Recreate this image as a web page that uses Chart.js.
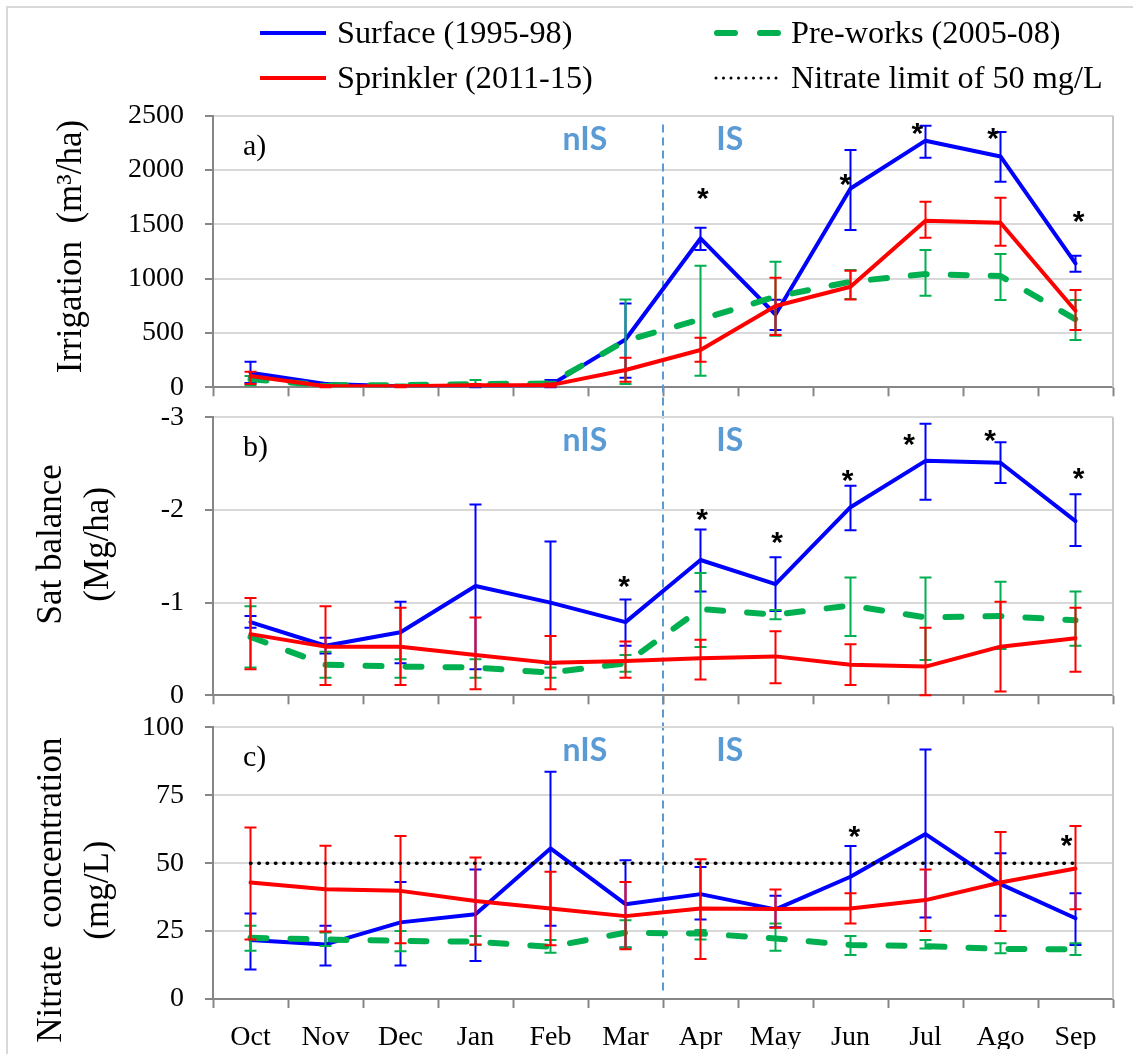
<!DOCTYPE html>
<html><head><meta charset="utf-8">
<script src="https://cdn.jsdelivr.net/npm/chart.js@4.4.1/dist/chart.umd.min.js"></script>
<style>
html,body{margin:0;padding:0;background:#fff;}
#wrap{position:relative;width:1133px;height:1054px;overflow:hidden;background:#fff;}
#wrap canvas{position:absolute;left:0;top:0;}
#frame{position:absolute;left:6px;top:6px;right:-10px;bottom:-10px;border-left:2px solid #d9d9d9;border-top:2px solid #d9d9d9;}
.lg{position:absolute;font-family:'Liberation Serif','Times New Roman',serif;font-size:31px;line-height:36px;color:#000;white-space:pre;transform-origin:left center;transform:scaleX(1.04);}
.sw{position:absolute;}
</style></head><body>
<div id="wrap">
<div id="frame"></div>
<canvas id="ca" width="1133" height="1054"></canvas>
<canvas id="cb" width="1133" height="1054"></canvas>
<canvas id="cc" width="1133" height="1054"></canvas>
<div id="legend"></div>
</div>
<script>
// ---------------- DATA ----------------
const months = ['Oct','Nov','Dec','Jan','Feb','Mar','Apr','May','Jun','Jul','Ago','Sep'];
const seriesNames = ['Surface (1995-98)','Sprinkler (2011-15)','Pre-works (2005-08)','Nitrate limit of 50 mg/L'];

// a) Irrigation (m3/ha)
const irrTicks = [0,500,1000,1500,2000,2500];
const irrSurface   = [135, 30, 10, 5, 20, 440, 1370, 670, 1830, 2270, 2125, 1140];
const irrSurfaceHi = [236, 40, 15, 10, 67, 772, 1468, 805, 2185, 2407, 2349, 1211];
const irrSurfaceLo = [40, 20, 5, 0, 0, 88, 1263, 528, 1447, 2113, 1892, 1064];
const irrSprinkler   = [104, 10, 10, 20, 20, 159, 343, 748, 926, 1533, 1515, 705];
const irrSprinklerHi = [144, 20, 20, 30, 35, 272, 456, 1008, 1073, 1708, 1745, 895];
const irrSprinklerLo = [30, 0, 0, 10, 5, 50, 236, 481, 809, 1377, 1303, 527];
const irrPreworks   = [73, 20, 20, 30, 35, 429, 625, 834, 972, 1042, 1024, 625];
const irrPreworksHi = [104, 30, 25, 67, 50, 809, 1119, 1156, 1079, 1263, 1226, 803];
const irrPreworksLo = [20, 10, 15, 10, 15, 30, 107, 475, 812, 843, 803, 435];
const irrStarPos = [6.03, 7.93, 8.89, 9.9, 11.04];
const irrStarVal = [1777, 1907, 2375, 2329, 1565];

// b) Salt balance (Mg/ha)
const saltTicks = [-3,-2,-1,0];
const saltSurface   = [-0.79, -0.535, -0.68, -1.18, -1.0, -0.79, -1.46, -1.20, -2.03, -2.53, -2.51, -1.88];
const saltSurfaceHi = [-0.855, -0.62, -1.01, -2.06, -1.66, -1.035, -1.79, -1.49, -2.26, -2.93, -2.73, -2.17];
const saltSurfaceLo = [-0.73, -0.45, -0.345, -0.28, -0.34, -0.535, -1.12, -0.91, -1.78, -2.11, -2.29, -1.61];
const saltSprinkler   = [-0.66, -0.525, -0.525, -0.435, -0.35, -0.37, -0.40, -0.42, -0.33, -0.31, -0.525, -0.615];
const saltSprinklerHi = [-1.05, -0.96, -0.945, -0.84, -0.64, -0.58, -0.60, -0.69, -0.55, -0.73, -1.01, -0.945];
const saltSprinklerLo = [-0.28, -0.11, -0.11, -0.065, -0.065, -0.19, -0.17, -0.13, -0.11, 0, -0.04, -0.255];
const saltPreworks   = [-0.63, -0.33, -0.31, -0.30, -0.245, -0.345, -0.93, -0.87, -0.97, -0.84, -0.855, -0.81];
const saltPreworksHi = [-0.96, -0.47, -0.39, -0.39, -0.30, -0.435, -1.32, -0.92, -1.27, -1.27, -1.225, -1.12];
const saltPreworksLo = [-0.30, -0.19, -0.19, -0.19, -0.19, -0.255, -0.52, -0.82, -0.64, -0.38, -0.50, -0.535];
const saltStarPos = [4.98, 6.02, 7.02, 7.96, 8.78, 9.86, 11.04];
const saltStarVal = [-1.225, -1.945, -1.70, -2.37, -2.75, -2.80, -2.39];

// c) Nitrate concentration (mg/L)
const nitTicks = [0,25,50,75,100];
const nitSurface   = [21.7, 20.1, 28.2, 31.2, 55.4, 34.9, 38.6, 33.0, 45.0, 60.7, 42.3, 29.7];
const nitSurfaceHi = [31.5, 27, 43.1, 47.7, 83.6, 51.1, 48.6, 38, 56.3, 91.8, 53.6, 38.9];
const nitSurfaceLo = [10.9, 12.3, 12.3, 14, 27, 19, 29.3, 26.4, 33.5, 30, 30.6, 19.9];
const nitSprinkler   = [42.9, 40.4, 39.8, 36.1, 33.3, 30.5, 33.3, 33.1, 33.3, 36.4, 42.9, 48.0];
const nitSprinklerHi = [63.1, 56.4, 60, 52.1, 46.8, 43.1, 51.4, 40.3, 38.9, 47.7, 61.5, 63.7];
const nitSprinklerLo = [21.9, 24.8, 20.5, 20.1, 19.8, 18.3, 14.7, 26.2, 27.8, 25, 25, 33];
const nitPreworks   = [22.5, 21.9, 21.4, 21.1, 19.2, 24.4, 24.1, 22.3, 19.9, 19.5, 18.4, 18.3];
const nitPreworksHi = [27, 24.5, 25, 23.2, 21.7, 29, 25.4, 27.8, 23.2, 21.7, 20.5, 20.5];
const nitPreworksLo = [17.8, 19.5, 17.6, 19.9, 17, 19, 21.9, 17.8, 16.2, 18.6, 16.8, 16.2];
const nitLimit = [50,50,50,50,50,50,50,50,50,50,50,50];
const nitStarPos = [8.05, 10.88];
const nitStarVal = [61.5, 58.2];

// season annotations
const seasonLabels = ['nIS','IS'];
const seasonPos = [4.46, 6.39];
const dividerPos = 5.5;

// ---------------- STYLE ----------------
const SERIF = "'Liberation Serif','Times New Roman',serif";
const BLUE='#0000FF', RED='#FF0000', GREEN='#00B050', AXIS='#868686', GRID='#d9d9d9', ISBLUE='#5B9BD5';

function series(label, data, hi, lo, color, style, order){
  const ds = {label, data, errHi:hi, errLo:lo, borderColor:color, backgroundColor:color,
    pointRadius:0, tension:0, order, fill:false, borderJoinStyle:'round'};
  if(style==='solid'){ ds.borderWidth=4; ds.borderCapStyle='round'; }
  if(style==='dash'){ ds.borderWidth=6; ds.borderDash=[16,24]; ds.borderCapStyle='round'; }
  if(style==='dot'){ ds.borderWidth=3.5; ds.borderDash=[0.5,7.8]; ds.borderCapStyle='round'; }
  return ds;
}

const errorBars = {
  id:'errorBars',
  afterDatasetDraw(chart, args){
    const ds = chart.data.datasets[args.index];
    if(!ds.errHi) return;
    const {ctx, scales:{x,y}} = chart;
    ctx.save();
    ctx.strokeStyle = ds.borderColor; ctx.lineWidth = 2; ctx.setLineDash([]);
    ds.data.forEach((v,i)=>{
      const px = x.getPixelForValue(i);
      const yh = y.getPixelForValue(ds.errHi[i]);
      const yl = y.getPixelForValue(ds.errLo[i]);
      ctx.beginPath();
      ctx.moveTo(px,yh); ctx.lineTo(px,yl);
      ctx.moveTo(px-6,yh); ctx.lineTo(px+6,yh);
      ctx.moveTo(px-6,yl); ctx.lineTo(px+6,yl);
      ctx.stroke();
    });
    ctx.restore();
  }
};

let chartC = null;
const decor = {
  id:'decor',
  beforeDatasetsDraw(chart, args, o){
    const {ctx, chartArea:a, scales:{x,y}} = chart;
    ctx.save();
    ctx.strokeStyle='#c8c8c8'; ctx.lineWidth=2;
    ctx.beginPath(); ctx.moveTo(a.right, a.top); ctx.lineTo(a.right, a.bottom); ctx.stroke();
    if(o.divider && chartC){
      const px = x.getPixelForValue(dividerPos);
      ctx.strokeStyle = ISBLUE; ctx.lineWidth = 2; ctx.setLineDash([8,5]);
      ctx.beginPath();
      ctx.moveTo(px, y.getPixelForValue(o.dividerTop));
      ctx.lineTo(px, chartC.scales.y.getPixelForValue(o.dividerBottom));
      ctx.stroke();
    }
    ctx.restore();
  },
  afterDraw(chart, args, o){
    const {ctx, chartArea:a, scales:{x,y}} = chart;
    ctx.save();
    ctx.fillStyle='#000'; ctx.font = `30px ${SERIF}`; ctx.textBaseline='middle'; ctx.textAlign='left';
    ctx.fillText(o.letter, a.left+30, a.top+31);
    ctx.fillStyle=ISBLUE; ctx.font="bold 32px Lato, 'Open Sans', sans-serif"; ctx.textAlign='center';
    ctx.textBaseline='alphabetic';
    const mi = ctx.measureText('IS');
    seasonLabels.forEach((t,i)=> ctx.fillText(t, x.getPixelForValue(seasonPos[i]), a.top+22+mi.actualBoundingBoxAscent/2));
    ctx.fillStyle='#000'; ctx.font="bold 30px 'Liberation Sans', Arial, sans-serif";
    const m = ctx.measureText('*');
    const off = (m.actualBoundingBoxAscent - m.actualBoundingBoxDescent)/2;
    o.starPos.forEach((p,i)=> ctx.fillText('*', x.getPixelForValue(p), y.getPixelForValue(o.starVal[i]) + off));
    ctx.font = `35px ${SERIF}`; ctx.textBaseline='middle'; ctx.textAlign='center';
    const cy = (a.top+a.bottom)/2 + o.titleDy;
    o.title.forEach((t,i)=>{ ctx.save(); ctx.translate(o.titleX + i*47, cy); ctx.rotate(-Math.PI/2); ctx.fillText(t,0,0); ctx.restore(); });
    ctx.restore();
  }
};

function panel(id, c){
  return new Chart(document.getElementById(id), {
    type:'line',
    data:{labels:months, datasets:c.datasets},
    options:{
      responsive:false, animation:false, events:[], devicePixelRatio:1,
      layout:{padding:{top:c.top, bottom:c.bottom, left:0, right:20}},
      plugins:{legend:{display:false}, tooltip:{enabled:false}, decor:c.decor},
      scales:{
        x:{type:'category', offset:true,
           grid:{offset:true, drawOnChartArea:false, drawTicks:true, tickLength:9, tickColor:AXIS, tickWidth:2},
           border:{color:AXIS, width:2},
           ticks:{display:c.showX, font:{family:SERIF, size:28}, color:'#000', padding:13, maxRotation:0, autoSkip:false},
           afterFit(s){ s.height = c.xh; s.paddingLeft=0; s.paddingRight=0; }},
        y:{min:c.ticks[0], max:c.ticks[c.ticks.length-1], reverse:!!c.reverse,
           afterBuildTicks(s){ s.ticks = c.ticks.map(v=>({value:v})); },
           ticks:{callback:v=>String(v), font:{family:SERIF, size:28}, color:'#000', padding:21},
           grid:{color:GRID, lineWidth:2, tickColor:AXIS, tickLength:8, tickWidth:2},
           border:{color:AXIS, width:2},
           afterFit(s){ s.width = 213; s.paddingTop=0; s.paddingBottom=0; }}
      }
    },
    plugins:[errorBars, decor]
  });
}

chartC = panel('cc', {
  top:727.3, bottom:5, xh:50, showX:true, ticks:nitTicks,
  datasets:[
    series(seriesNames[3], nitLimit, null, null, '#000', 'dot', 0),
    series(seriesNames[1], nitSprinkler, nitSprinklerHi, nitSprinklerLo, RED, 'solid', 1),
    series(seriesNames[2], nitPreworks, nitPreworksHi, nitPreworksLo, GREEN, 'dash', 2),
    series(seriesNames[0], nitSurface, nitSurfaceHi, nitSurfaceLo, BLUE, 'solid', 3)
  ],
  decor:{letter:'c)', starPos:nitStarPos, starVal:nitStarVal, title:['Nitrate  concentration','(mg/L)'], titleX:52, titleDy:27}
});
const chartB = panel('cb', {
  top:417.3, bottom:1054-695.3-30, xh:30, showX:false, ticks:saltTicks, reverse:true,
  datasets:[
    series(seriesNames[1], saltSprinkler, saltSprinklerHi, saltSprinklerLo, RED, 'solid', 1),
    series(seriesNames[2], saltPreworks, saltPreworksHi, saltPreworksLo, GREEN, 'dash', 2),
    series(seriesNames[0], saltSurface, saltSurfaceHi, saltSurfaceLo, BLUE, 'solid', 3)
  ],
  decor:{letter:'b)', starPos:saltStarPos, starVal:saltStarVal, title:['Sat balance','(Mg/ha)'], titleX:52, titleDy:-12}
});
const chartA = panel('ca', {
  top:115.7, bottom:1054-387.3-30, xh:30, showX:false, ticks:irrTicks,
  datasets:[
    series(seriesNames[1], irrSprinkler, irrSprinklerHi, irrSprinklerLo, RED, 'solid', 1),
    series(seriesNames[2], irrPreworks, irrPreworksHi, irrPreworksLo, GREEN, 'dash', 2),
    series(seriesNames[0], irrSurface, irrSurfaceHi, irrSurfaceLo, BLUE, 'solid', 3)
  ],
  decor:{letter:'a)', starPos:irrStarPos, starVal:irrStarVal, title:['Irrigation  (m\u00B3/ha)'], titleX:72, titleDy:-5,
         divider:true, dividerTop:2420, dividerBottom:2}
});

// ---------------- LEGEND (HTML) ----------------
const legendItems = [
  {name:seriesNames[0], color:BLUE, kind:'solid', x:258, y:33},
  {name:seriesNames[2], color:GREEN, kind:'dash', x:712, y:33},
  {name:seriesNames[1], color:RED, kind:'solid', x:258, y:78},
  {name:seriesNames[3], color:'#000', kind:'dot', x:712, y:78}
];
const lg = document.getElementById('legend');
legendItems.forEach(it=>{
  let line;
  if(it.kind==='solid') line = `<line x1="2" y1="10" x2="68" y2="10" stroke="${it.color}" stroke-width="4"/>`;
  if(it.kind==='dash') line = `<line x1="5" y1="10" x2="66" y2="10" stroke="${it.color}" stroke-width="6" stroke-dasharray="18 25" stroke-linecap="round"/>`;
  if(it.kind==='dot') line = `<line x1="4" y1="10" x2="68" y2="10" stroke="${it.color}" stroke-width="3" stroke-dasharray="0 7.5" stroke-linecap="round"/>`;
  const sv = document.createElement('div'); sv.className='sw';
  sv.style.left = it.x+'px'; sv.style.top = (it.y-10)+'px';
  sv.innerHTML = `<svg width="72" height="20">${line}</svg>`;
  lg.appendChild(sv);
  const t = document.createElement('div'); t.className='lg';
  t.style.left = (it.x+79)+'px'; t.style.top = (it.y-18)+'px';
  t.textContent = it.name;
  lg.appendChild(t);
});
</script>
</body></html>
